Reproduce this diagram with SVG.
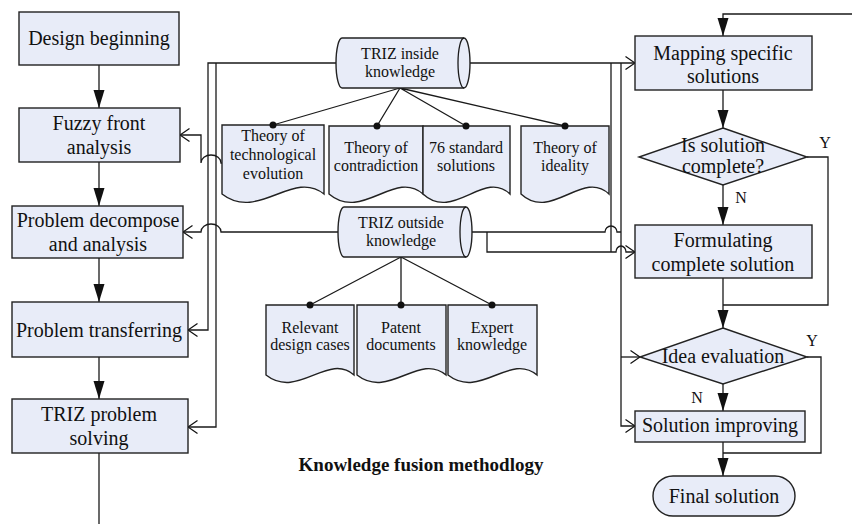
<svg xmlns="http://www.w3.org/2000/svg" width="852" height="526" viewBox="0 0 852 526">
<style>
.box{fill:#e8ecf8;stroke:#222;stroke-width:1.4}
.ln{fill:none;stroke:#1a1a1a;stroke-width:1.3}
.t20{font-family:"Liberation Serif",serif;font-size:20px;fill:#111;text-anchor:middle}
.t16{font-family:"Liberation Serif",serif;font-size:16px;fill:#111;text-anchor:middle}
.tb{font-family:"Liberation Serif",serif;font-size:19px;font-weight:bold;fill:#111;text-anchor:middle}
.dot{fill:#111}
</style>
<defs>
<marker id="fa" markerUnits="userSpaceOnUse" viewBox="0 0 18 12" refX="18" refY="6" markerWidth="18" markerHeight="12" orient="auto">
<path d="M0,0.5 L18,6 L0,11.5 Z" fill="#111"/>
</marker>
<marker id="oa" markerUnits="userSpaceOnUse" viewBox="0 0 11 16" refX="10" refY="8" markerWidth="11" markerHeight="16" orient="auto">
<path d="M0.5,1.5 L10,8 L0.5,14.5" fill="none" stroke="#111" stroke-width="1.3"/>
</marker>
</defs>

<g id="connectors">
<!-- left main flow -->
<path class="ln" d="M99,65 V108" marker-end="url(#fa)"/>
<path class="ln" d="M99,162 V206" marker-end="url(#fa)"/>
<path class="ln" d="M99,258 V302" marker-end="url(#fa)"/>
<path class="ln" d="M99,357 V399" marker-end="url(#fa)"/>
<path class="ln" d="M99,453 V524"/>
<!-- left knowledge feeds -->
<path class="ln" d="M336,63 H208 V330 H188" marker-end="url(#oa)"/>
<path class="ln" d="M216,63 V427 H188" marker-end="url(#oa)"/>
<path class="ln" d="M222,163 H221 A10,8 0 0 0 201,163 V135 H180" marker-end="url(#oa)"/>
<path class="ln" d="M338,232 H221 A10,8 0 0 0 201,232 H183" marker-end="url(#oa)"/>
<!-- knowledge tree links -->
<path class="ln" d="M400,88 L273,125 M400,88 L377,126 M400,88 L466,126 M400,88 L565,126"/>
<path class="ln" d="M401,257 L310,305 M401,257 L401,305 M401,257 L492,305"/>
<!-- right knowledge feeds -->
<path class="ln" d="M470,63 H635" marker-end="url(#oa)"/>
<path class="ln" d="M611,63 V252"/>
<path class="ln" d="M621,63 V426 H635" marker-end="url(#oa)"/>
<path class="ln" d="M621,357 H640" marker-end="url(#oa)"/>
<path class="ln" d="M472,232 H605 A6,6 0 0 1 617,232 H621"/>
<path class="ln" d="M487,232 V252 H616 A5,6 0 0 1 626,252 H635" marker-end="url(#oa)"/>
<!-- right main flow -->
<path class="ln" d="M852,14 H723 V36" marker-end="url(#fa)"/>
<path class="ln" d="M723,90 V128" marker-end="url(#fa)"/>
<path class="ln" d="M723,185 V225" marker-end="url(#fa)"/>
<path class="ln" d="M723,278 V328" marker-end="url(#fa)"/>
<path class="ln" d="M723,384 V411" marker-end="url(#fa)"/>
<path class="ln" d="M723,442 V476" marker-end="url(#fa)"/>
<path class="ln" d="M807,157 H828 V305 H723"/>
<path class="ln" d="M807,357 H821 V453 H723"/>
<text class="t16" x="825" y="148">Y</text>
<text class="t16" x="741" y="203">N</text>
<text class="t16" x="812" y="346">Y</text>
<text class="t16" x="697" y="403">N</text>
</g>

<g id="design-beginning">
<rect class="box" x="19" y="12" width="160" height="53"/>
<text class="t20" x="99" y="45">Design beginning</text>
</g>
<g id="fuzzy-front">
<rect class="box" x="19" y="108" width="161" height="54"/>
<text class="t20" x="99" y="130">Fuzzy front</text>
<text class="t20" x="99" y="154">analysis</text>
</g>
<g id="problem-decompose">
<rect class="box" x="12" y="206" width="171" height="52"/>
<text class="t20" x="98" y="227">Problem decompose</text>
<text class="t20" x="98" y="251">and analysis</text>
</g>
<g id="problem-transferring">
<rect class="box" x="12" y="302" width="176" height="55"/>
<text class="t20" x="99" y="337">Problem transferring</text>
</g>
<g id="triz-problem-solving">
<rect class="box" x="12" y="399" width="176" height="54"/>
<text class="t20" x="99" y="421">TRIZ problem</text>
<text class="t20" x="99" y="445">solving</text>
</g>

<g id="triz-inside">
<path class="box" d="M342,38 H464 A6,25 0 0 1 464,88 H342 A6,25 0 0 1 342,38 Z"/>
<path class="ln" d="M464,38 A6,25 0 0 0 464,88"/>
<text class="t16" x="400" y="59">TRIZ inside</text>
<text class="t16" x="400" y="77">knowledge</text>
</g>
<g id="theory-tech-evolution">
<path class="box" d="M222,125 H324 V194 C293,169 258,222 222,194 Z"/>
<circle class="dot" cx="273" cy="125" r="3.5"/>
<text class="t16" x="273" y="141">Theory of</text>
<text class="t16" x="273" y="160">technological</text>
<text class="t16" x="273" y="179">evolution</text>
</g>
<g id="theory-contradiction">
<path class="box" d="M329,126 H423 V194 C395,169 362,222 329,194 Z"/>
<circle class="dot" cx="377" cy="126" r="3.5"/>
<text class="t16" x="376" y="153">Theory of</text>
<text class="t16" x="376" y="171">contradiction</text>
</g>
<g id="standard-solutions">
<path class="box" d="M423,126 H510 V194 C484,169 453,222 423,194 Z"/>
<circle class="dot" cx="466" cy="126" r="3.5"/>
<text class="t16" x="466" y="153">76 standard</text>
<text class="t16" x="466" y="171">solutions</text>
</g>
<g id="theory-ideality">
<path class="box" d="M521,126 H609 V194 C583,169 551,222 521,194 Z"/>
<circle class="dot" cx="565" cy="126" r="3.5"/>
<text class="t16" x="565" y="153">Theory of</text>
<text class="t16" x="565" y="171">ideality</text>
</g>

<g id="triz-outside">
<path class="box" d="M344,207 H466 A6,25 0 0 1 466,257 H344 A6,25 0 0 1 344,207 Z"/>
<path class="ln" d="M466,207 A6,25 0 0 0 466,257"/>
<text class="t16" x="401" y="228">TRIZ outside</text>
<text class="t16" x="401" y="246">knowledge</text>
</g>
<g id="relevant-design-cases">
<path class="box" d="M266,305 H354 V375 C328,352 298,400 266,375 Z"/>
<circle class="dot" cx="310" cy="305" r="3.5"/>
<text class="t16" x="310" y="333">Relevant</text>
<text class="t16" x="310" y="350">design cases</text>
</g>
<g id="patent-documents">
<path class="box" d="M357,305 H446 V375 C419,352 389,400 357,375 Z"/>
<circle class="dot" cx="401" cy="305" r="3.5"/>
<text class="t16" x="401" y="333">Patent</text>
<text class="t16" x="401" y="350">documents</text>
</g>
<g id="expert-knowledge">
<path class="box" d="M448,305 H537 V375 C510,352 480,400 448,375 Z"/>
<circle class="dot" cx="492" cy="305" r="3.5"/>
<text class="t16" x="492" y="333">Expert</text>
<text class="t16" x="492" y="350">knowledge</text>
</g>

<g id="title">
<text class="tb" x="421" y="471">Knowledge fusion methodlogy</text>
</g>

<g id="mapping-solutions">
<rect class="box" x="635" y="36" width="177" height="54"/>
<text class="t20" x="723" y="60">Mapping specific</text>
<text class="t20" x="723" y="83">solutions</text>
</g>
<g id="is-solution-complete">
<path class="box" d="M723,128 L807,157 L723,185 L639,157 Z"/>
<text class="t20" x="723" y="152">Is solution</text>
<text class="t20" x="723" y="173">complete?</text>
</g>
<g id="formulating-solution">
<rect class="box" x="635" y="225" width="177" height="53"/>
<text class="t20" x="723" y="247">Formulating</text>
<text class="t20" x="723" y="271">complete solution</text>
</g>
<g id="idea-evaluation">
<path class="box" d="M723,328 L807,357 L723,384 L640,357 Z"/>
<text class="t20" x="723" y="363">Idea evaluation</text>
</g>
<g id="solution-improving">
<rect class="box" x="635" y="411" width="170" height="31"/>
<text class="t20" x="720" y="432">Solution improving</text>
</g>
<g id="final-solution">
<rect class="box" x="653" y="476" width="142" height="40" rx="20" ry="20"/>
<text class="t20" x="724" y="503">Final solution</text>
</g>
</svg>
